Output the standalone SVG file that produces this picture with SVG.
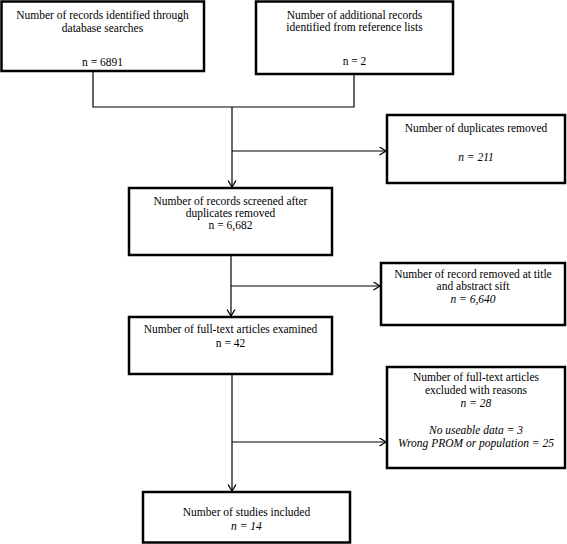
<svg xmlns="http://www.w3.org/2000/svg" width="567" height="544" viewBox="0 0 567 544">
<defs>
<style>
.box{fill:#fff;stroke:#000;stroke-width:2.5}
text{font-family:'Liberation Serif','Times New Roman','DejaVu Serif',serif;font-size:11.5px;fill:#000;text-anchor:middle}
.i{font-style:italic}
.c{fill:none;stroke:#000;stroke-width:1.2}
</style>
<marker id="ah" markerUnits="userSpaceOnUse" markerWidth="10" markerHeight="10" refX="7" refY="4.5" orient="auto" viewBox="0 0 10 10">
<path d="M0.5,0.5 L7,4.5 L0.5,8.5" fill="none" stroke="#000" stroke-width="1.3"/>
</marker>
</defs>
<rect width="567" height="544" fill="#fff"/>
<g id="connectors">
<path class="c" d="M93,71 V107 H354 V74"/>
<path class="c" d="M232,107 V187" marker-end="url(#ah)"/>
<path class="c" d="M232,151 H386" marker-end="url(#ah)"/>
<path class="c" d="M231,256 V316" marker-end="url(#ah)"/>
<path class="c" d="M231,286 H380" marker-end="url(#ah)"/>
<path class="c" d="M232,375 V491" marker-end="url(#ah)"/>
<path class="c" d="M232,442 H386" marker-end="url(#ah)"/>
</g>
<g id="n1" font-family="Liberation Serif, serif">
<rect class="box" x="1.5" y="1.5" width="202.5" height="69.5"/>
<text x="102.5" y="19">Number of records identified through</text>
<text x="102.5" y="32">database searches</text>
<text x="102.5" y="66">n = 6891</text>
</g>
<g id="n2">
<rect class="box" x="256" y="1.5" width="197" height="72.5"/>
<text x="354.5" y="19">Number of additional records</text>
<text x="354.5" y="31">identified from reference lists</text>
<text x="354.5" y="65">n = 2</text>
</g>
<g id="n3">
<rect class="box" x="387" y="115" width="178" height="68"/>
<text x="476" y="132">Number of duplicates removed</text>
<text class="i" x="476" y="161">n = 211</text>
</g>
<g id="n4">
<rect class="box" x="129" y="188" width="203" height="67"/>
<text x="230.5" y="205">Number of records screened after</text>
<text x="230.5" y="217">duplicates removed</text>
<text x="230.5" y="229">n = 6,682</text>
</g>
<g id="n5">
<rect class="box" x="381" y="263" width="184" height="62"/>
<text x="473" y="278">Number of record removed at title</text>
<text x="473" y="290">and abstract sift</text>
<text class="i" x="473" y="303">n = 6,640</text>
</g>
<g id="n6">
<rect class="box" x="129" y="317" width="203" height="57"/>
<text x="230.5" y="333">Number of full-text articles examined</text>
<text x="230.5" y="347">n = 42</text>
</g>
<g id="n7">
<rect class="box" x="387" y="367" width="178" height="101"/>
<text x="476" y="381">Number of full-text articles</text>
<text x="476" y="394">excluded with reasons</text>
<text class="i" x="476" y="407">n = 28</text>
<text class="i" x="476" y="434">No useable data = 3</text>
<text class="i" x="476" y="447">Wrong PROM or population = 25</text>
</g>
<g id="n8">
<rect class="box" x="143" y="492" width="207" height="50.5"/>
<text x="246.5" y="516">Number of studies included</text>
<text class="i" x="246.5" y="530">n = 14</text>
</g>
</svg>
